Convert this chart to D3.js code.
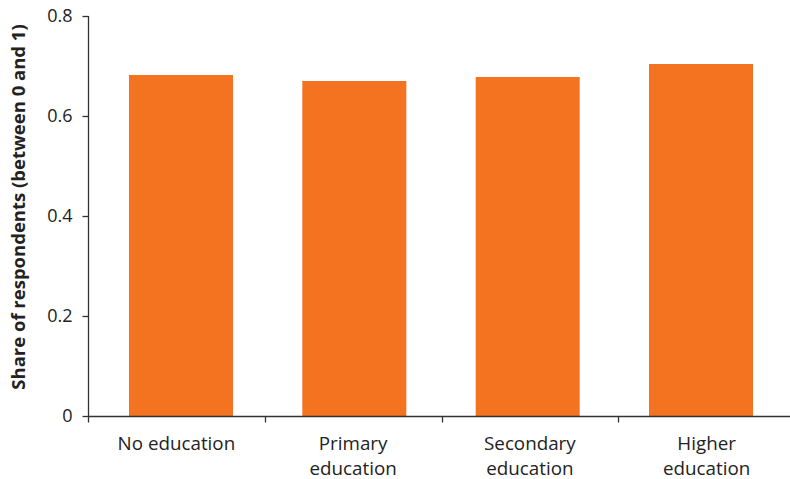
<!DOCTYPE html>
<html><head><meta charset="utf-8">
<script src="https://cdn.jsdelivr.net/npm/d3@7"></script>
<style>body{margin:0;background:#fff}svg{display:block}</style>
</head><body>
<svg id="c" width="790" height="479"></svg>
<script>
const categories = ["No education", "Primary\neducation", "Secondary\neducation", "Higher\neducation"];
const values = [0.682, 0.670, 0.678, 0.704];
const yTicks = [0, 0.2, 0.4, 0.6, 0.8];
const yTitle = "Share of respondents (between 0 and 1)";

const svg = d3.select("#c");
const font = "'Open Sans', sans-serif";
const axisColor = "#333";
const y = d3.scaleLinear().domain([0, 0.8]).range([416, 16]);
const xTicks = d3.scaleBand().domain(categories).range([88, 795]);
const xBars = d3.scaleBand().domain(categories).range([94.3, 787.7]).paddingInner(0.4).paddingOuter(0.2);

svg.selectAll("rect.bar").data(values).join("rect")
  .attr("class", "bar")
  .attr("x", (d, i) => xBars(categories[i]))
  .attr("width", xBars.bandwidth())
  .attr("y", d => y(d))
  .attr("height", d => y(0) - y(d))
  .attr("fill", "#F37321");

// y axis
const ya = svg.append("g").attr("transform", "translate(88.5,0)")
  .call(d3.axisLeft(y).tickValues(yTicks).tickSize(6).tickPadding(10).tickFormat(d => d === 0 ? "0" : d3.format(".1f")(d)));
ya.select(".domain").attr("stroke", axisColor).attr("stroke-width", 1.3).attr("d", "M0,16V416.5");
ya.selectAll(".tick line").attr("stroke", axisColor).attr("stroke-width", 1.3);
ya.selectAll(".tick text").attr("font-family", font).attr("font-size", 18).attr("fill", "#222");

// x axis
const xa = svg.append("g").attr("transform", "translate(0,416.5)");
xa.append("line").attr("x1", 88).attr("x2", 790).attr("stroke", axisColor).attr("stroke-width", 1.3);
xa.selectAll("line.t").data(categories).join("line").attr("class", "t")
  .attr("x1", d => Math.round(xTicks(d)) + 0.5).attr("x2", d => Math.round(xTicks(d)) + 0.5)
  .attr("y1", 0).attr("y2", 6).attr("stroke", axisColor).attr("stroke-width", 1.3);
const lbl = xa.selectAll("text.l").data(categories).join("text").attr("class", "l")
  .attr("x", d => xTicks(d) + xTicks.bandwidth() / 2)
  .attr("text-anchor", "middle").attr("font-family", font).attr("font-size", 18.8).attr("fill", "#222");
lbl.each(function(d) {
  const lines = d.split("\n");
  d3.select(this).selectAll("tspan").data(lines).join("tspan")
    .attr("x", xTicks(d) + xTicks.bandwidth() / 2)
    .attr("y", (l, i) => 33 + i * 25)
    .text(l => l);
});

svg.append("text")
  .attr("transform", "translate(25,207) rotate(-90)")
  .attr("text-anchor", "middle").attr("font-family", font).attr("font-weight", "bold")
  .attr("font-size", 18.5).attr("fill", "#222").text(yTitle);
</script>
</body></html>
